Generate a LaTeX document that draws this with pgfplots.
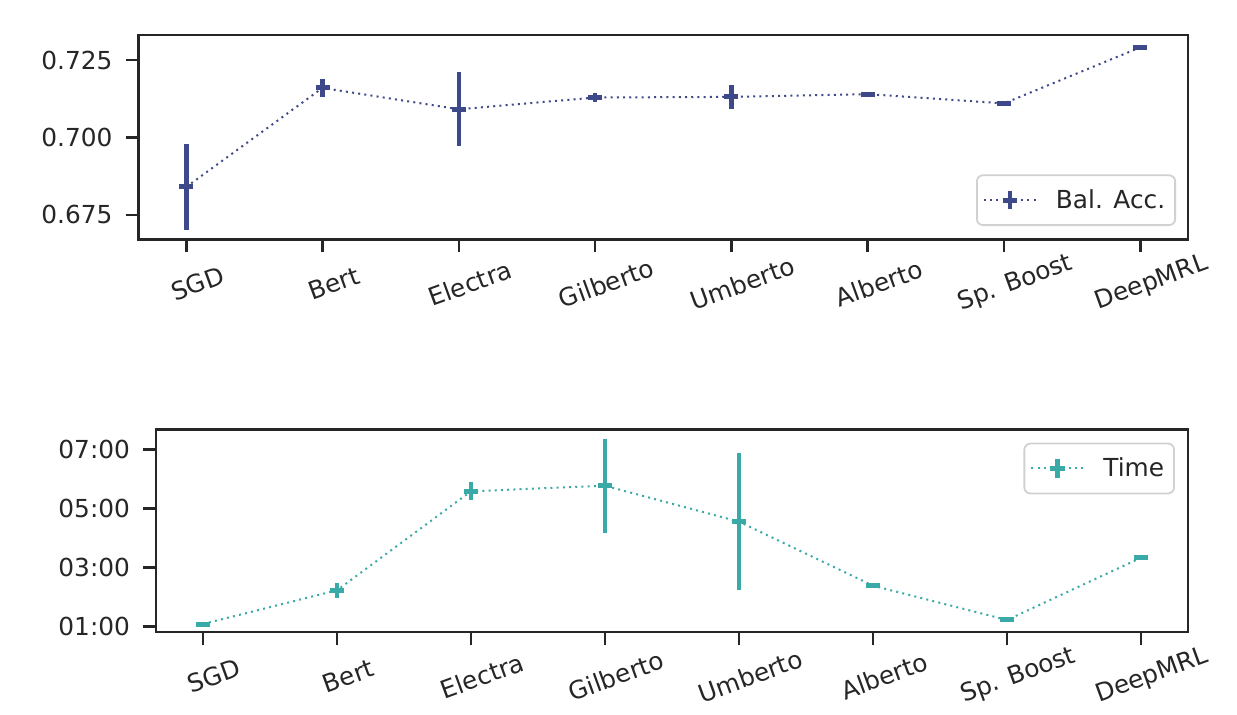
\documentclass[border=0pt]{standalone}
\usepackage{fontspec}
\setmainfont{DejaVu Sans}
\usepackage{pgfplots}
\usepackage{pgfplotstable}
\pgfplotsset{compat=1.18}
\definecolor{c1}{RGB}{62,73,137}
\definecolor{c2}{RGB}{58,170,168}
\definecolor{ink}{RGB}{38,38,38}

\pgfplotstableread{
x y e
0 0.6840 0.0139
1 0.7160 0.0028
2 0.7091 0.0119
3 0.7129 0.0016
4 0.7131 0.0039
5 0.7140 0.0005
6 0.7110 0.0005
7 0.7291 0.0005
}\acc

\pgfplotstableread{
x y e
0 1.091 0.00
1 2.231 0.26
2 5.579 0.30
3 5.768 1.59
4 4.551 2.31
5 2.387 0.05
6 1.227 0.02
7 3.333 0.03
}\tim

\pgfplotsset{
  myaxis/.style={
    scale only axis,
    anchor=south west,
    axis line style={ink, line width=1.3pt},
    every tick/.style={ink, line width=1.3pt},
    major tick length=6.5pt,
    tick align=outside,
    xtick pos=bottom, ytick pos=left,
    xmin=-0.35, xmax=7.35,
    xtick={0,...,7},
    xticklabels={SGD,Bert,Electra,Gilberto,Umberto,Alberto,Sp. Boost,DeepMRL},
    xticklabel style={rotate=20, anchor=center, yshift=-16.5pt},
    yticklabel style={anchor=east, xshift=-3pt},
    ticklabel style={font=\fontsize{12.4}{14}\selectfont, text=ink},
    /pgf/number format/assume math mode=true,
    legend style={font=\fontsize{12.4}{14}\selectfont, text=ink, draw=black!18,
      rounded corners=3pt, line width=0.9pt, inner xsep=3pt, inner ysep=5pt,
      column sep=7.5pt},
    legend cell align=left,
  },
  myleg/.style={
    legend image code/.code={
      \draw[#1, solid, line width=1pt, dash pattern=on 1pt off 2.1pt] (0pt,0pt) -- (26pt,0pt);
      \draw[#1, solid, line width=2.3pt] (13pt,-4.6pt) -- (13pt,4.6pt);
      \draw[#1, solid, line width=2.4pt] (9.3pt,0pt) -- (16.7pt,0pt);
    }
  },
  myplot/.style={
    #1, line width=1pt, dash pattern=on 1pt off 2.1pt,
    mark=-, mark size=3.5pt, mark options={solid, line width=2.5pt},
    error bars/.cd, y dir=both, y explicit, error mark=none,
    error bar style={solid, line width=2.3pt, #1},
  },
}

\begin{document}
\begin{tikzpicture}
\useasboundingbox (0,0) rectangle (618.5pt,357.5pt);
\begin{axis}[myaxis,
  at={(69.25pt,237.85pt)}, width=524.75pt, height=102.15pt,
  ymin=0.6671, ymax=0.7331,
  ytick={0.675,0.700,0.725},
  yticklabel style={/pgf/number format/.cd, fixed, fixed zerofill, precision=3},
  legend style={at={(0.9886,0.065)}, anchor=south east},
]
\addplot[myleg=c1, myplot=c1] table[x=x, y=y, y error=e] {\acc};
\addlegendentry{Bal. Acc.\hspace{2pt}}
\end{axis}

\begin{axis}[myaxis,
  at={(78pt,41.5pt)}, width=516pt, height=101.35pt,
  ymin=0.821, ymax=7.676,
  ytick={1,3,5,7},
  yticklabels={01:00,03:00,05:00,07:00},
  legend style={at={(0.9874,0.934)}, anchor=north east},
]
\addplot[myleg=c2, myplot=c2] table[x=x, y=y, y error=e] {\tim};
\addlegendentry{Time\hspace{2pt}}
\end{axis}
\end{tikzpicture}
\end{document}
